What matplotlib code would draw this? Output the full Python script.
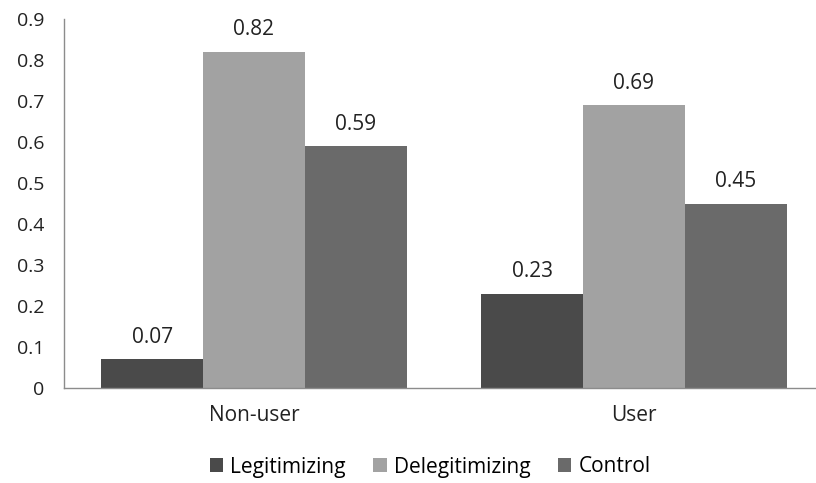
import numpy as np
import matplotlib
matplotlib.use("Agg")
import matplotlib.pyplot as plt

plt.rcParams['font.family'] = ['Open Sans', 'DejaVu Sans']

categories = ['Non-user', 'User']
series_names = ['Legitimizing', 'Delegitimizing', 'Control']
legitimizing = [0.07, 0.23]
delegitimizing = [0.82, 0.69]
control = [0.59, 0.45]
colors = ['#4a4a4a', '#a2a2a2', '#6a6a6a']

fig = plt.figure(figsize=(8.16, 4.83), dpi=100)
ax = fig.add_axes([64 / 816, 95 / 483, 752 / 816, 369 / 483])

x = np.arange(len(categories))
width = 0.268
offsets = [-width, 0, width]
for vals, off, col, name in zip([legitimizing, delegitimizing, control], offsets, colors, series_names):
    bars = ax.bar(x + off, vals, width, color=col, label=name)
    for b, v in zip(bars, vals):
        ax.text(b.get_x() + b.get_width() / 2, v + 0.028, f'{v:.2f}',
                ha='center', va='bottom', fontsize=15, color='#222222')

ax.set_xlim(-0.5, -0.5 + 752 / 380)
ax.set_ylim(0, 0.9)
ax.set_yticks(np.arange(0, 0.91, 0.1))
ax.set_yticklabels(['0'] + [f'{v:.1f}' for v in np.arange(0.1, 0.91, 0.1)])
ax.set_xticks(x)
ax.set_xticklabels(categories)
ax.tick_params(axis='y', length=0, labelsize=14, colors='#222222', pad=14)
ax.tick_params(axis='x', length=0, labelsize=15, colors='#222222', pad=12)
for s in ['top', 'right']:
    ax.spines[s].set_visible(False)
for s in ['left', 'bottom']:
    ax.spines[s].set_color('#8c8c8c')
    ax.spines[s].set_linewidth(1.0)

fig.legend(loc='center', bbox_to_anchor=(430 / 816, 1 - 467 / 483), ncol=3,
           frameon=False, fontsize=15, handlelength=0.65, handleheight=0.65,
           handletextpad=0.35, columnspacing=1.3)

fig.savefig('out.png', dpi=100)
